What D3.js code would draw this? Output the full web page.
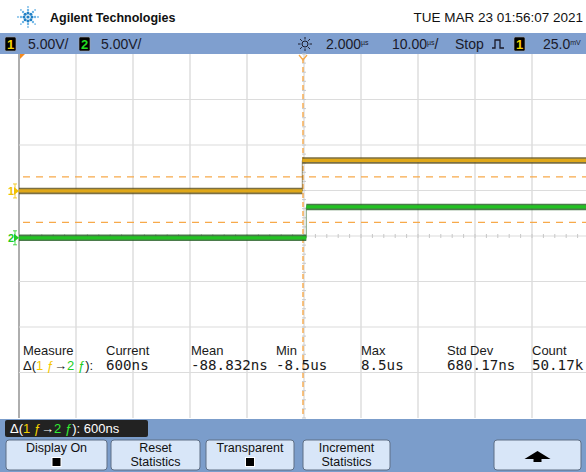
<!DOCTYPE html>
<html><head><meta charset="utf-8">
<script src="https://cdn.jsdelivr.net/npm/d3@7"></script>
<style>
html,body{margin:0;padding:0;background:#fff;}
svg{display:block;}
</style></head>
<body>
<svg id="c" width="586" height="472"></svg>
<script>
// ---------- data ----------
const timeDomain = [-10, 10];           // µs, 2 µs/div, 10 divisions
const vDomain = [-20, 20];              // V, 5 V/div, 8 divisions
const ch1Edge = -0.06;                  // µs
const ch2Edge = 0.08;                   // µs
const ch1Levels = [4.95, 8.3];          // V before / after edge
const ch2Levels = [-0.2, 3.2];          // V before / after edge
const ch1Threshold = 6.5;               // V
const ch2Threshold = 1.5;               // V
const measureHeaders = ["Current", "Mean", "Min", "Max", "Std Dev", "Count"];
const measureValues = ["600ns", "-88.832ns", "-8.5us", "8.5us", "680.17ns", "50.17k"];
const buttonLabels = [["Display On"], ["Reset", "Statistics"], ["Transparent"], ["Increment", "Statistics"], ["↑"]];
const buttonChecks = [true, false, true, false, false];

// ---------- setup ----------
const svg = d3.select("#c");
const sans = "'Liberation Sans Narrow','Liberation Sans',Arial,sans-serif";
const mono = "'DejaVu Sans Mono','Liberation Mono',monospace";
const gx0 = 19, gx1 = 589, gy0 = 54, gy1 = 418;
const x = d3.scaleLinear().domain(timeDomain).range([gx0, gx1]);
const y = d3.scaleLinear().domain(vDomain).range([gy1, gy0]);

// title area
const logo = svg.append("g").attr("transform", "translate(28,17)");
for (let i = 0; i < 8; i++) {
  const a = i * Math.PI / 4;
  [4, 7, 10].forEach((r, k) => {
    logo.append("circle").attr("cx", r * Math.cos(a)).attr("cy", r * Math.sin(a))
      .attr("r", [1.5, 1.2, 0.9][k]).attr("fill", k === 0 ? "#1f7fc4" : "#6fb6e6");
  });
}
logo.append("circle").attr("r", 1.6).attr("fill", "#1f7fc4");
svg.append("text").attr("x", 50).attr("y", 22).attr("font-family", "'Liberation Sans',Arial,sans-serif")
  .attr("font-weight", "bold").attr("font-size", 12.5).attr("fill", "#111").text("Agilent Technologies");
svg.append("text").attr("x", 583).attr("y", 22).attr("text-anchor", "end").attr("font-family", sans)
  .attr("font-size", 13.5).attr("fill", "#111").text("TUE MAR 23 01:56:07 2021");

// header bar
svg.append("rect").attr("x", 0).attr("y", 33).attr("width", 586).attr("height", 21).attr("fill", "#7f9fcf");
function chBox(x0, label, col) {
  svg.append("rect").attr("x", x0).attr("y", 37).attr("width", 11).attr("height", 14).attr("rx", 1.5)
    .attr("fill", "#000").attr("stroke", "#aaa").attr("stroke-width", 0.6);
  svg.append("text").attr("x", x0 + 5.5).attr("y", 49).attr("text-anchor", "middle").attr("font-family", sans)
    .attr("font-weight", "bold").attr("font-size", 13).attr("fill", col).text(label);
}
chBox(5, "1", "#f5d300");
chBox(79, "2", "#22dd22");
const hdr = (xx, t) => svg.append("text").attr("x", xx).attr("y", 49).attr("font-family", sans)
  .attr("font-size", 14).attr("fill", "#1a1a2a").text(t);
hdr(28, "5.00V/");
hdr(101, "5.00V/");
// sun icon
const sun = svg.append("g").attr("transform", "translate(305,44)").attr("stroke", "#1a1a2a").attr("stroke-width", 1);
sun.append("circle").attr("r", 3).attr("fill", "none");
for (let i = 0; i < 8; i++) {
  const a = i * Math.PI / 4;
  sun.append("line").attr("x1", 4.5 * Math.cos(a)).attr("y1", 4.5 * Math.sin(a))
    .attr("x2", 7 * Math.cos(a)).attr("y2", 7 * Math.sin(a));
}
function unitText(xx, main, unit, tail) {
  const t = svg.append("text").attr("x", xx).attr("y", 49).attr("font-family", sans)
    .attr("font-size", 14).attr("fill", "#1a1a2a");
  t.append("tspan").text(main);
  t.append("tspan").attr("font-size", 7).attr("dy", -4).text(unit);
  if (tail) t.append("tspan").attr("dy", 4).text(tail);
}
unitText(326, "2.000", "µs");
unitText(392, "10.00", "µs", "/");
hdr(455, "Stop");
svg.append("path").attr("d", "M492,48 h3 v-8 h5 v8 h4").attr("fill", "none").attr("stroke", "#1a1a2a").attr("stroke-width", 1.3);
chBox(514, "1", "#f5d300");
unitText(543, "25.0", "mV");

// grid
const grid = svg.append("g");
d3.range(0, 11).forEach(i => {
  const xx = x(timeDomain[0] + i * 2);
  grid.append("line").attr("x1", xx).attr("x2", xx).attr("y1", gy0).attr("y2", gy1)
    .attr("stroke", i === 0 ? "#9a9a9a" : "#d6d6d6").attr("stroke-width", i === 0 ? 1.6 : 1.2);
});
d3.range(1, 8).forEach(i => {
  const yy = y(vDomain[0] + i * 5);
  grid.append("line").attr("x1", gx0).attr("x2", 586).attr("y1", yy).attr("y2", yy)
    .attr("stroke", "#dcdcdc").attr("stroke-width", 1.2);
});
// minor ticks on center lines
d3.range(-10, 10.01, 0.4).forEach(t => {
  grid.append("line").attr("x1", x(t)).attr("x2", x(t)).attr("y1", y(0) - 2).attr("y2", y(0) + 2)
    .attr("stroke", "#c8c8c8").attr("stroke-width", 1);
});
d3.range(-20, 20.01, 1).forEach(v => {
  grid.append("line").attr("x1", x(0) - 2).attr("x2", x(0) + 2).attr("y1", y(v)).attr("y2", y(v))
    .attr("stroke", "#c8c8c8").attr("stroke-width", 1);
});

// trigger markers
svg.append("line").attr("x1", x(0) - 1).attr("x2", x(0) - 1).attr("y1", gy0 + 4).attr("y2", gy1)
  .attr("stroke", "#f7a94a").attr("stroke-width", 1.4).attr("stroke-dasharray", "5,4");
svg.append("path").attr("d", `M${x(0) - 5},${gy0 + 1} L${x(0) - 1},${gy0 + 6} L${x(0) + 3},${gy0 + 1}`)
  .attr("fill", "none").attr("stroke", "#f7a94a").attr("stroke-width", 1.3);
svg.append("path").attr("d", `M${gx0 + 1},${gy0} h5 l-5,5 z`).attr("fill", "#f58a1f");

// threshold lines
[ch1Threshold, ch2Threshold].forEach(v => {
  svg.append("line").attr("x1", gx0 + 4).attr("x2", 586).attr("y1", y(v)).attr("y2", y(v))
    .attr("stroke", "#f7a94a").attr("stroke-width", 1.3).attr("stroke-dasharray", "7,6");
});

// traces
function trace(edge, levels, dark, bright) {
  const line = d3.line().x(d => x(d[0])).y(d => y(d[1]));
  const segs = [[[timeDomain[0], levels[0]], [edge, levels[0]]], [[edge, levels[1]], [timeDomain[1], levels[1]]]];
  svg.append("path").attr("d", line([[edge, levels[0]], [edge, levels[1]]])).attr("fill", "none")
    .attr("stroke", dark).attr("stroke-width", 1).attr("opacity", 0.6);
  segs.forEach(s => {
    svg.append("path").attr("d", line(s)).attr("fill", "none").attr("stroke", dark).attr("stroke-width", 6.5).attr("opacity", 0.8);
    svg.append("path").attr("d", line(s)).attr("fill", "none").attr("stroke", bright).attr("stroke-width", 3.2);
  });
}
trace(ch1Edge, ch1Levels, "#5a4b14", "#e0a818");
trace(ch2Edge, ch2Levels, "#1e5a1e", "#22c322");

// channel markers
function chMarker(v, label, col) {
  const yy = y(v);
  svg.append("text").attr("x", 8).attr("y", yy + 4).attr("font-family", sans).attr("font-size", 11)
    .attr("font-weight", "bold").attr("fill", col).text(label);
  svg.append("path").attr("d", `M14,${yy - 4} L19,${yy} L14,${yy + 4} z`).attr("fill", col);
  svg.append("path").attr("d", `M13,${yy - 7} h4 M15,${yy - 7} v14 M13,${yy + 7} h4`).attr("stroke", col).attr("stroke-width", 0.8).attr("fill", "none");
}
chMarker(ch1Levels[0], "1", "#f0c000");
chMarker(ch2Levels[0], "2", "#22cc22");

// measurements
const mx = [106, 191, 276, 361, 447, 532];
const lab = svg.append("g").attr("font-family", sans).attr("font-size", 13).attr("fill", "#1a1a1a");
lab.append("text").attr("x", 23).attr("y", 355).text("Measure");
const d1 = lab.append("text").attr("x", 23).attr("y", 370);
d1.append("tspan").text("Δ(");
d1.append("tspan").attr("fill", "#f5c800").text("1 ƒ");
d1.append("tspan").text("→");
d1.append("tspan").attr("fill", "#22cc22").text("2 ƒ");
d1.append("tspan").text("):");
measureHeaders.forEach((h, i) => lab.append("text").attr("x", mx[i]).attr("y", 355).text(h));
measureValues.forEach((v, i) => svg.append("text").attr("x", mx[i]).attr("y", 370).attr("font-family", mono)
  .attr("font-size", 14.2).attr("fill", "#1a1a1a").text(v));

// bottom panel
svg.append("rect").attr("x", 0).attr("y", gy1 + 1).attr("width", 586).attr("height", 472 - gy1 - 1).attr("fill", "#7b9dcb");
svg.append("rect").attr("x", 5).attr("y", 420).attr("width", 143).attr("height", 17).attr("rx", 2).attr("fill", "#222");
const dl = svg.append("text").attr("x", 10).attr("y", 433).attr("font-family", sans).attr("font-size", 13).attr("fill", "#fff");
dl.append("tspan").text("Δ(");
dl.append("tspan").attr("fill", "#f5d300").text("1 ƒ");
dl.append("tspan").text("→");
dl.append("tspan").attr("fill", "#33ee33").text("2 ƒ");
dl.append("tspan").text("): 600ns");

const bx = [[6, 107], [111, 200], [206, 294], [303, 390], [494, 581]];
bx.forEach((b, i) => {
  const g = svg.append("g");
  g.append("rect").attr("x", b[0]).attr("y", 440).attr("width", b[1] - b[0]).attr("height", 30).attr("rx", 3)
    .attr("fill", "#d8e6f8").attr("stroke", "#5f6f85").attr("stroke-width", 1);
  const cx = (b[0] + b[1]) / 2;
  const lbl = buttonLabels[i];
  if (i === 4) {
    g.append("path").attr("d", `M${cx - 13},${459} L${cx},${451} L${cx + 13},${459} h-9 v3 h-8 v-3 z`).attr("fill", "#000");
    return;
  }
  if (lbl.length === 1) {
    g.append("text").attr("x", cx).attr("y", 452).attr("text-anchor", "middle").attr("font-family", sans)
      .attr("font-size", 12.5).attr("fill", "#111").text(lbl[0]);
  } else {
    lbl.forEach((l, k) => g.append("text").attr("x", cx).attr("y", 452 + k * 13.5).attr("text-anchor", "middle")
      .attr("font-family", sans).attr("font-size", 12.5).attr("fill", "#111").text(l));
  }
  if (buttonChecks[i]) {
    g.append("rect").attr("x", cx - 4.5).attr("y", 457.5).attr("width", 9).attr("height", 9).attr("fill", "#000")
      .attr("stroke", "#fff").attr("stroke-width", 1);
  }
});
</script>
</body></html>
